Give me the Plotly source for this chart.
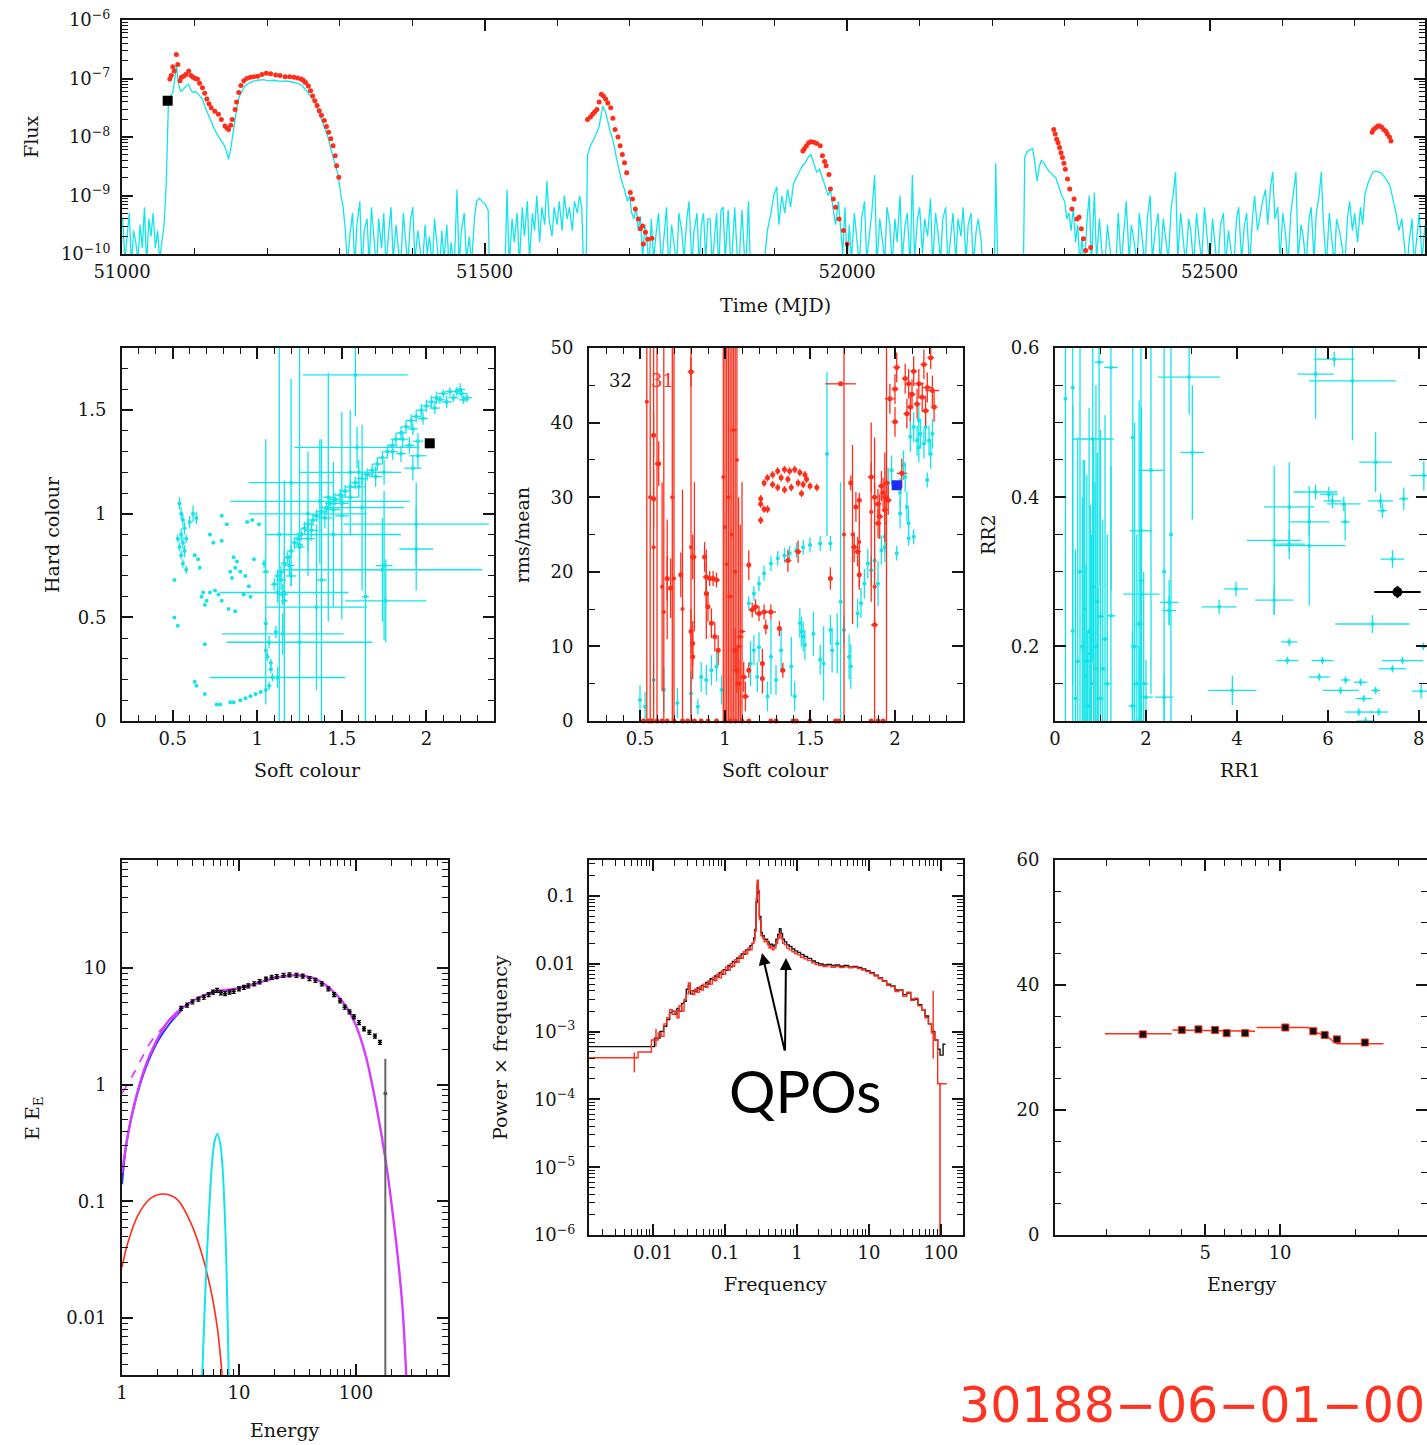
import plotly.graph_objects as go

# ======================= DATA =======================
# --- Light curve (MJD, log10 flux) ---
lc_cyan = [
    (51001,-9.4),(51004,-10.1),(51007,-9.7),(51010,-9.3),(51013,-10.2),(51016,-9.6),(51019,-9.8),(51022,-10.1),
    (51025,-9.5),(51028,-9.9),(51031,-9.2),(51034,-10.2),(51037,-9.4),(51040,-9.7),(51043,-9.3),(51046,-9.9),
    (51049,-9.6),(51052,-10.1),(51055,-9.8),(51058,-9.5),(51061,-8.8),(51064,-7.42),(51067,-7.3),(51070,-7.24),
    (51073,-7.0),(51075,-6.75),(51078,-7.1),(51081,-7.22),(51085,-7.18),(51089,-7.12),(51092,-7.1),(51095,-7.2),
    (51098,-7.24),(51101,-7.22),(51104,-7.25),(51108,-7.3),(51111,-7.35),(51115,-7.5),(51119,-7.62),(51123,-7.75),
    (51127,-7.85),(51131,-7.95),(51136,-8.04),(51140,-8.12),(51143,-8.2),(51147,-8.38),(51150,-8.2),(51153,-7.95),
    (51156,-7.65),(51159,-7.45),(51162,-7.3),(51166,-7.2),(51170,-7.12),(51175,-7.08),(51180,-7.05),(51187,-7.03),
    (51195,-7.02),(51202,-7.04),(51210,-7.03),(51218,-7.05),(51226,-7.04),(51234,-7.06),(51242,-7.08),(51248,-7.12),
    (51254,-7.2),(51260,-7.3),(51266,-7.42),(51272,-7.6),(51278,-7.8),(51284,-8.0),(51289,-8.25),(51294,-8.5),
    (51298,-8.65),(51302,-9.0),(51305,-9.2),(51308,-9.6),(51311,-10.2),
    (51314,-9.7),(51318,-9.3),(51321,-10.2),(51324,-9.5),(51328,-9.1),(51331,-10.3),(51334,-9.6),(51338,-9.4),
    (51341,-10.2),(51344,-9.2),(51348,-9.8),(51351,-10.3),(51354,-9.4),(51358,-9.9),(51361,-9.3),(51364,-10.2),
    (51368,-9.6),(51371,-9.2),(51374,-10.1),(51378,-9.5),(51381,-9.9),(51384,-10.3),(51388,-9.3),(51391,-9.7),
    (51394,-10.2),(51398,-9.4),(51401,-9.2),(51404,-10.1),(51408,-9.6),(51411,-9.9),(51414,-10.3),(51418,-9.5),
    (51421,-10.0),(51424,-9.7),(51428,-10.2),(51431,-9.4),(51434,-9.9),(51438,-10.3),(51441,-9.6),(51444,-10.1),
    (51448,-9.5),(51451,-10.2),(51454,-9.8),(51458,-10.3),(51462,-8.9),(51465,-10.2),(51468,-9.6),(51472,-9.3),
    (51475,-10.1),(51479,-9.7),(51482,-10.2),(51486,-9.4),(51489,-9.1),(51493,-9.05),(51497,-9.1),(51501,-9.15),
    (51505,-9.25),(51507,-10.4),(51528,-10.4),(51531,-8.9),(51534,-10.2),(51538,-9.4),(51541,-9.8),(51545,-9.3),
    (51548,-10.2),(51552,-9.2),(51555,-9.7),(51559,-9.1),(51562,-10.1),(51566,-9.3),(51569,-9.6),(51572,-9.0),
    (51576,-9.8),(51579,-9.2),(51583,-9.5),(51586,-8.75),(51589,-9.4),(51593,-9.7),(51596,-9.2),(51600,-9.5),
    (51603,-9.1),(51607,-9.6),(51610,-9.0),(51614,-9.4),(51617,-9.2),(51621,-9.6),(51624,-9.1),(51628,-9.3),
    (51631,-9.0),(51634,-9.2),(51637,-10.4),(51640,-10.3),
    (51642,-8.3),(51646,-8.15),(51650,-8.05),(51654,-7.95),(51658,-7.82),(51661,-7.6),(51663,-7.47),(51666,-7.55),
    (51669,-7.68),(51673,-7.9),(51677,-8.05),(51681,-8.3),(51685,-8.55),(51689,-8.75),(51693,-8.9),(51697,-9.1),
    (51700,-9.0),(51703,-9.3),(51706,-9.4),(51709,-9.2),(51712,-9.6),(51715,-9.35),(51718,-10.1),(51721,-9.5),
    (51724,-9.8),(51727,-10.2),
    (51730,-9.4),(51733,-10.1),(51737,-9.6),(51740,-9.3),(51744,-10.2),(51747,-9.7),(51751,-9.2),(51754,-10.3),
    (51758,-9.5),(51761,-9.8),(51765,-10.2),(51768,-9.3),(51772,-9.6),(51775,-10.1),(51779,-9.4),(51782,-9.1),
    (51786,-10.2),(51789,-9.6),(51793,-9.3),(51796,-10.2),(51799,-9.5),(51802,-9.3),(51805,-10.1),(51808,-9.4),
    (51811,-9.4),(51814,-10.2),(51817,-9.7),(51820,-9.3),(51823,-10.3),(51826,-9.25),(51829,-9.2),(51832,-10.1),
    (51836,-9.25),(51840,-10.3),(51845,-9.2),(51850,-10.4),(51855,-9.25),(51860,-10.4),(51864,-9.1),(51867,-10.4),
    (51884,-10.4),(51890,-9.6),(51895,-9.3),(51899,-9.0),(51903,-8.85),(51906,-9.5),(51910,-9.0),(51914,-9.3),
    (51918,-8.9),(51922,-9.2),(51926,-8.8),(51930,-8.7),(51934,-8.6),(51938,-8.5),(51942,-8.45),(51946,-8.35),
    (51950,-8.3),(51954,-8.45),(51958,-8.6),(51962,-8.55),(51966,-8.7),(51970,-8.85),(51974,-9.0),(51977,-8.9),
    (51981,-9.2),(51984,-9.5),(51988,-9.1),(51991,-9.6),(51994,-10.0),(51997,-9.2),(52000,-10.2),
    (52003,-9.5),(52006,-10.1),(52010,-9.3),(52013,-9.7),(52017,-10.2),(52020,-9.4),(52024,-9.1),(52027,-10.1),
    (52031,-9.6),(52034,-9.3),(52038,-8.65),(52041,-10.2),(52045,-9.4),(52048,-9.7),(52052,-10.1),(52055,-9.2),
    (52059,-9.5),(52062,-10.2),(52066,-9.4),(52069,-9.8),(52073,-9.0),(52076,-10.1),(52080,-9.5),(52083,-9.3),
    (52087,-10.2),(52090,-8.65),(52093,-10.1),(52097,-9.4),(52100,-9.2),(52104,-10.0),(52107,-9.4),(52111,-9.7),
    (52115,-9.05),(52118,-10.2),(52122,-9.3),(52125,-9.6),(52129,-10.1),(52132,-9.4),(52136,-9.2),(52139,-10.2),
    (52143,-9.6),(52146,-9.3),(52150,-10.1),(52153,-9.4),(52157,-9.7),(52160,-9.2),(52164,-10.1),(52167,-9.5),
    (52171,-9.3),(52174,-10.2),(52178,-9.6),(52181,-9.4),(52185,-9.8),(52188,-10.4),(52203,-10.4),(52205,-8.45),
    (52208,-10.4),(52243,-10.4),
    (52245,-8.35),(52248,-8.25),(52252,-8.22),(52256,-8.2),(52259,-8.45),(52262,-8.75),(52265,-8.5),(52268,-8.4),
    (52272,-8.45),(52276,-8.55),(52280,-8.6),(52284,-8.65),(52288,-8.7),(52292,-8.85),(52296,-9.0),(52300,-9.1),
    (52303,-9.4),(52306,-9.3),(52309,-9.6),(52312,-9.2),(52315,-9.8),(52318,-9.5),(52321,-10.2),(52324,-9.7),
    (52327,-10.3),(52331,-9.4),(52334,-9.0),(52337,-10.2),(52341,-8.95),(52344,-10.1),(52348,-9.4),(52351,-9.9),
    (52355,-10.3),(52359,-9.5),(52362,-9.9),(52366,-10.3),(52370,-10.4),(52374,-9.3),(52378,-10.2),(52382,-9.6),
    (52385,-9.1),(52389,-10.1),(52392,-9.5),(52396,-9.8),(52400,-10.2),(52403,-9.3),(52407,-9.7),(52411,-10.2),
    (52414,-9.4),(52418,-9.0),(52421,-10.1),(52425,-9.6),(52429,-9.3),(52432,-10.2),(52436,-9.4),(52440,-9.8),
    (52443,-10.1),(52447,-9.2),(52450,-8.95),(52453,-8.6),(52456,-10.1),(52460,-9.3),(52463,-9.7),(52467,-10.2),
    (52471,-9.4),(52474,-9.6),(52478,-10.2),(52482,-9.3),(52485,-9.7),(52489,-10.1),(52493,-9.2),(52496,-9.6),
    (52500,-10.2),(52504,-9.4),(52507,-9.9),(52511,-10.3),(52515,-9.5),(52519,-9.3),(52522,-10.2),(52526,-9.6),
    (52529,-9.9),(52533,-10.3),(52537,-9.4),(52540,-9.2),(52544,-10.1),(52548,-9.5),(52551,-9.3),(52555,-10.2),
    (52559,-9.4),(52562,-9.0),(52566,-9.6),(52570,-9.3),(52573,-9.1),(52577,-8.9),(52580,-9.5),(52584,-8.85),
    (52587,-8.6),(52590,-9.4),(52594,-9.2),(52597,-10.1),(52601,-9.3),(52605,-9.7),(52608,-10.2),(52612,-9.3),
    (52615,-9.0),(52619,-8.6),(52622,-10.1),(52626,-9.5),(52629,-9.7),(52633,-10.2),(52637,-9.4),(52640,-9.2),
    (52644,-10.1),(52647,-9.3),(52651,-9.0),(52654,-8.6),(52657,-9.5),(52661,-10.2),(52665,-9.3),(52668,-9.7),
    (52672,-10.2),(52675,-9.4),(52679,-9.6),(52683,-9.9),(52686,-10.3),(52690,-9.4),(52693,-9.1),(52697,-9.6),
    (52700,-9.3),(52704,-9.8),(52708,-9.2),(52711,-9.5),(52714,-9.0),(52718,-8.8),(52721,-8.7),(52725,-8.6),
    (52729,-8.58),(52733,-8.6),(52737,-8.62),(52741,-8.68),(52745,-8.75),(52749,-8.85),(52753,-9.05),(52757,-9.3),
    (52761,-9.6),(52765,-9.4),(52769,-9.9),(52772,-10.3),(52775,-9.8),(52779,-9.4),(52782,-10.2),(52786,-9.6),
    (52789,-9.3),(52793,-10.1),(52797,-9.5),
]
lc_red = [
    (51066,-7.01),(51068,-6.95),(51070,-6.8),(51072,-6.87),(51075,-6.59),(51077,-6.76),(51080,-7.04),(51082,-6.98),
    (51085,-6.96),(51088,-6.93),(51092,-6.87),(51095,-6.95),(51098,-6.98),(51101,-7.0),(51104,-7.01),(51107,-7.08),
    (51111,-7.16),(51114,-7.25),(51117,-7.35),(51120,-7.43),(51123,-7.50),(51128,-7.56),(51133,-7.61),(51137,-7.7),
    (51142,-7.81),(51145,-7.85),(51147,-7.87),(51150,-7.8),(51152,-7.70),(51156,-7.53),(51158,-7.4),(51161,-7.24),
    (51164,-7.12),(51168,-7.04),(51172,-7.0),(51177,-6.98),(51182,-6.97),(51187,-6.96),(51193,-6.93),(51199,-6.91),
    (51205,-6.92),(51212,-6.94),(51218,-6.95),(51225,-6.97),(51231,-6.97),(51237,-6.98),(51242,-6.99),(51247,-7.01),
    (51250,-7.03),(51253,-7.07),(51257,-7.13),(51260,-7.21),(51263,-7.3),(51266,-7.38),(51269,-7.46),(51272,-7.55),
    (51275,-7.63),(51279,-7.72),(51282,-7.82),(51285,-7.92),(51288,-8.03),(51291,-8.15),(51294,-8.32),(51296,-8.49),
    (51299,-8.69),
    (51642,-7.70),(51646,-7.66),(51649,-7.61),(51652,-7.57),(51655,-7.53),(51658,-7.4),(51661,-7.27),(51664,-7.3),
    (51667,-7.35),(51670,-7.42),(51674,-7.50),(51677,-7.68),(51680,-7.87),(51684,-8.0),(51687,-8.15),(51690,-8.3),
    (51693,-8.44),(51696,-8.61),(51701,-8.95),(51704,-9.06),(51708,-9.23),(51712,-9.40),(51715,-9.57),(51718,-9.52),
    (51719,-9.83),(51722,-9.63),(51725,-9.75),(51731,-9.73),
    (51939,-8.24),(51941,-8.2),(51944,-8.15),(51947,-8.1),(51950,-8.08),(51954,-8.09),(51958,-8.11),(51963,-8.15),
    (51966,-8.32),(51969,-8.42),(51971,-8.49),(51975,-8.64),(51977,-8.89),(51981,-9.06),(51984,-9.20),(51989,-9.40),
    (51995,-9.60),(52000,-9.83),
    (52285,-7.87),(52287,-7.95),(52289,-8.04),(52291,-8.1),(52293,-8.18),(52295,-8.27),(52297,-8.35),(52299,-8.45),
    (52301,-8.55),(52304,-8.72),(52307,-8.89),(52310,-9.23),(52313,-9.06),(52317,-9.40),(52320,-9.37),(52323,-9.57),
    (52326,-9.74),(52329,-9.94),(52336,-9.89),
    (52724,-7.92),(52726,-7.87),(52729,-7.84),(52732,-7.81),(52734,-7.81),(52737,-7.83),(52740,-7.87),(52743,-7.9),
    (52745,-7.95),(52748,-8.0),(52750,-8.07),
]
lc_black = [(51063, -7.38)]

# --- Hardness: (soft colour, hard colour, err_soft, err_hard) ---
hc_points = [
    (0.54,1.05,0.01,0.03),(0.55,1.0,0.01,0.03),(0.56,0.97,0.01,0.03),(0.57,0.93,0.01,0.03),(0.55,0.9,0.01,0.03),
    (0.56,0.86,0.01,0.03),(0.57,0.82,0.01,0.03),(0.55,0.8,0.01,0.02),(0.56,0.76,0.01,0.02),(0.58,0.73,0.01,0.02),
    (0.6,0.96,0.01,0.03),(0.62,1.0,0.01,0.04),(0.64,0.98,0.01,0.03),(0.53,0.88,0.01,0.02),(0.58,0.88,0.01,0.02),
    (0.54,0.84,0.0,0.02),(0.51,0.68,0,0),(0.51,0.50,0,0),(0.53,0.46,0,0),(0.69,0.37,0,0),(0.63,0.19,0,0),
    (0.64,0.17,0,0),(0.69,0.13,0,0),(0.76,0.08,0,0),(0.78,0.08,0,0),(0.84,0.09,0,0),(0.86,0.09,0,0),(0.9,0.1,0,0),
    (0.93,0.11,0,0),(0.96,0.12,0,0),(0.99,0.13,0,0),(1.02,0.14,0.01,0.01),(1.05,0.15,0.01,0.01),(1.07,0.17,0.01,0.02),
    (1.09,0.21,0.01,0.02),(1.08,0.25,0.01,0.02),(1.08,0.28,0.01,0.02),(1.06,0.31,0.01,0.02),(1.05,0.34,0.01,0.02),
    (1.07,0.38,0.01,0.03),(1.11,0.43,0.01,0.03),(1.05,0.47,0.01,0.03),
    (0.67,0.6,0,0),(0.69,0.56,0,0),(0.72,0.9,0,0),(0.74,0.86,0,0),(0.79,0.99,0,0),(0.82,0.95,0,0),(0.79,0.87,0,0),
    (0.86,0.79,0,0),(0.87,0.74,0,0),(0.9,0.72,0,0),(0.75,0.63,0,0),(0.79,0.58,0,0),(0.83,0.54,0,0),(0.87,0.53,0,0),
    (0.92,0.61,0,0),(0.95,0.65,0,0),(0.96,0.6,0,0),(0.94,0.96,0.01,0),(0.97,0.97,0.01,0),(1.01,0.95,0.01,0),
    (1.04,0.76,0.01,0.02),(0.98,0.78,0,0),(0.68,0.62,0,0),(0.7,0.58,0,0),(0.63,0.8,0,0),(0.65,0.78,0,0),(0.66,0.74,0,0),
    (0.72,0.62,0,0),(0.77,0.61,0,0),(0.88,0.77,0,0),(0.84,0.72,0,0),(0.93,0.7,0,0),(0.85,0.69,0,0),
    (1.10,0.66,0.02,0.03),(1.12,0.70,0.02,0.03),(1.14,0.72,0.02,0.03),(1.16,0.76,0.02,0.03),(1.18,0.79,0.02,0.03),
    (1.20,0.82,0.02,0.03),(1.22,0.86,0.02,0.03),(1.24,0.88,0.02,0.03),(1.26,0.90,0.02,0.03),(1.28,0.93,0.02,0.03),
    (1.30,0.95,0.03,0.03),(1.33,0.97,0.03,0.03),(1.35,0.99,0.03,0.03),(1.38,1.01,0.03,0.03),(1.41,1.03,0.03,0.03),
    (1.43,1.05,0.03,0.03),(1.46,1.07,0.03,0.03),(1.49,1.09,0.03,0.03),(1.52,1.11,0.03,0.03),(1.55,1.13,0.03,0.03),
    (1.58,1.15,0.03,0.03),(1.62,1.17,0.03,0.03),(1.65,1.19,0.03,0.03),(1.68,1.21,0.03,0.03),(1.71,1.24,0.03,0.03),
    (1.74,1.27,0.03,0.03),(1.77,1.30,0.03,0.03),(1.80,1.33,0.03,0.03),(1.82,1.36,0.03,0.03),(1.85,1.39,0.03,0.03),
    (1.88,1.42,0.03,0.03),(1.91,1.45,0.03,0.03),(1.94,1.47,0.03,0.03),(1.97,1.50,0.03,0.03),(2.00,1.52,0.03,0.03),
    (2.03,1.54,0.03,0.03),(2.06,1.56,0.03,0.03),(2.10,1.58,0.03,0.02),(2.14,1.59,0.03,0.02),(2.18,1.59,0.03,0.02),
    (2.21,1.58,0.03,0.02),(2.24,1.56,0.03,0.02),(2.22,1.55,0.03,0.02),(2.16,1.56,0.03,0.02),(2.08,1.55,0.03,0.02),
    (2.05,1.51,0.03,0.03),(1.98,1.46,0.03,0.03),(1.92,1.41,0.03,0.03),(1.86,1.36,0.03,0.04),(1.80,1.30,0.03,0.04),
    (1.9,1.33,0.03,0.04),(1.95,1.35,0.03,0.04),(1.85,1.29,0.03,0.04),(2.12,1.54,0.03,0.03),(2.2,1.6,0.03,0.03),
    (1.70,1.18,0.04,0.05),(1.60,1.13,0.04,0.05),(1.50,1.05,0.04,0.05),(1.40,0.98,0.04,0.05),(1.32,0.92,0.04,0.05),
    (1.25,0.84,0.03,0.05),(1.19,0.75,0.03,0.05),(1.14,0.68,0.03,0.05),(1.12,0.62,0.03,0.05),(1.15,0.61,0.03,0.05),
    (1.2,0.7,0.03,0.05),(1.3,0.88,0.04,0.06),(1.45,1.02,0.04,0.06),(1.55,1.08,0.05,0.06),(1.6,1.2,0.05,0.06),
    (1.75,1.2,0.05,0.06),(1.95,1.28,0.05,0.06),(1.92,1.22,0.05,0.06),
]
hc_big = [
    (1.58,1.67,0.31,0.2),(1.13,0.9,0.02,0.92),(1.25,0.85,0.02,1.0),(1.64,0.6,0.02,0.6),(1.59,1.32,0.37,0.1),
    (1.37,1.06,0.53,0.3),(1.94,0.95,0.43,0.2),(1.74,0.73,0.59,0.25),(1.16,0.62,0.38,0.2),(1.76,0.58,0.24,0.2),
    (1.15,0.42,0.36,0.1),(1.25,0.38,0.43,0.08),(1.12,0.21,0.4,0.05),(1.05,0.72,0.02,0.64),(1.16,0.58,0.02,0.58),
    (1.38,0.68,0.03,0.68),(1.42,1.08,0.03,0.6),(1.5,0.99,0.04,0.5),(1.75,0.75,0.05,0.36),(1.94,0.83,0.1,0.2),
    (1.3,1.0,0.35,0.3),(1.45,0.9,0.4,0.35),(1.55,1.2,0.3,0.3),(1.35,0.55,0.3,0.4),(1.62,1.03,0.25,0.4),
    (1.2,1.15,0.25,0.5),
]
hc_black = [(2.02, 1.34)]

# --- rms vs soft colour: (soft colour, rms, err_soft, err_rms) ---
rms_red_big = [
    (0.54,42.8,0.01,45),(0.56,30,0.01,40),(0.58,23.3,0.01,40),(0.6,34.5,0.01,40),(0.64,14.6,0.01,38),
    (0.69,30,0.01,35),(0.7,19.1,0.01,40),(0.8,23.3,0.01,30),(0.99,32.7,0.01,40),(1.0,26,0.01,40),
    (1.01,21,0.01,40),(1.02,30,0.01,40),(1.03,16.7,0.02,35),(1.04,25,0.01,40),(1.05,39,0.02,40),
    (1.06,20,0.01,40),(1.07,35,0.01,40),(1.08,10,0.02,20),(1.09,11.3,0.02,15),(1.1,12,0.02,20),
    (1.7,25,0.01,40),(1.95,30,0.01,40),(1.88,18,0.01,20),(0.75,15,0.01,16),(0.82,22,0.01,10),
    (0.63,18,0.01,14),(0.66,19,0.01,8),(0.89,17,0.01,6),(1.75,25,0.01,12),(1.79,24,0.01,6),
    (1.86,28,0.01,12),(1.94,30,0.02,6),
]
rms_red = [
    (0.58,38.3,0.01,3),(0.61,34.5,0.01,3),(0.58,29.8,0.01,4),(0.66,19.1,0.01,3),(0.68,17.8,0.01,4),
    (0.74,19.6,0.01,3),(0.80,46.8,0.02,2),(0.81,22.0,0.01,3),(0.8,12.0,0.01,3),(0.81,10.4,0.01,3),
    (0.81,8.6,0.01,3),(0.88,22.0,0.01,2),(0.89,19.3,0.02,2),(0.89,17.1,0.01,2),(0.9,15.3,0.01,2),
    (0.91,19.1,0.02,1),(0.93,19.1,0.02,1),(0.95,18.9,0.02,1),(0.92,13.1,0.01,2),(0.94,11.3,0.01,2),
    (0.96,9.5,0.01,2),(1.06,9.5,0.02,3),(1.07,6.8,0.02,3),(1.08,5.0,0.02,3),(1.11,5.9,0.02,2),
    (1.12,3.3,0.02,2),(1.14,20.9,0.01,2),(1.14,6.8,0.01,1),(1.16,14.9,0.02,1),(1.18,15.3,0.02,1),
    (1.2,14.4,0.02,1),(1.23,14.6,0.03,1),(1.27,14.6,0.03,1),(1.22,7.7,0.01,2),(1.22,5.7,0.01,2),
    (1.24,12.6,0.01,1),(1.32,12.4,0.01,1),(1.34,6.8,0.01,1),(1.37,21.5,0.02,1.5),(1.43,22.7,0.02,1.5),
    (1.62,19.1,0.01,1.5),(1.68,45.2,0.09,0.3),(1.74,31.9,0.01,1),(1.77,28.7,0.01,2),(1.79,29.6,0.01,1),
    (1.76,23.3,0.02,2),(1.78,22.7,0.02,2),(1.79,19.6,0.01,2),(1.88,12.9,0.02,1),(1.86,32.7,0.02,2),
    (1.88,30.0,0.02,2),(1.9,29.1,0.02,2),(1.91,27.4,0.02,3),(1.92,31.5,0.02,2),(1.93,30.6,0.02,2),
    (1.95,31.9,0.02,2),(1.96,29.6,0.02,2),(1.94,28.3,0.02,2),(1.9,26.5,0.02,2),(1.97,43.2,0.03,2),
    (2.0,44.5,0.02,2),(2.01,47.4,0.02,2),(2.0,40.1,0.02,2),(2.04,33.2,0.03,2),(2.06,45.9,0.02,2),
    (2.08,45.2,0.02,2),(2.1,43.8,0.02,2),(2.11,46.9,0.02,2),(2.13,42.5,0.02,2),(2.14,45.2,0.03,2),
    (2.16,43.4,0.02,2),(2.17,47.8,0.02,2),(2.18,41.6,0.02,2),(2.19,44.7,0.03,2),(2.21,48.7,0.02,1.5),
    (2.22,44.3,0.04,2),(2.23,42.1,0.02,2),(2.09,42.1,0.02,2),(2.07,41.2,0.02,2),
    (1.23,31.9,0.01,0.5),(1.25,32.6,0.01,0.5),(1.28,33.0,0.01,0.5),(1.31,33.5,0.01,0.5),(1.35,33.7,0.01,0.5),
    (1.38,33.5,0.01,0.5),(1.41,33.7,0.01,0.5),(1.44,33.3,0.01,0.5),(1.47,33.0,0.01,0.5),(1.46,31.7,0.01,0.5),
    (1.43,31.9,0.01,0.5),(1.39,31.3,0.01,0.5),(1.35,31.0,0.01,0.5),(1.31,31.3,0.01,0.5),(1.28,31.7,0.01,0.5),
    (1.5,31.5,0.01,0.5),(1.54,31.3,0.01,0.5),(1.37,32.4,0.01,0.5),(1.33,32.6,0.01,0.5),(1.48,32.4,0.01,0.5),
    (1.45,30.5,0.01,0.5),(1.21,29.8,0.01,0.5),(1.21,29.1,0.01,0.5),(1.23,28.4,0.01,0.5),(1.25,28.4,0.01,0.5),
    (1.21,26.9,0.01,0.5),
]
rms_red_zero = [0.52,0.55,0.57,0.6,0.63,0.66,0.7,0.75,0.78,0.82,0.86,0.9,0.95,1.0,1.03,1.06,1.1,1.14,
                1.27,1.3,1.4,1.42,1.5,1.65,1.67,1.86,1.9,1.93]
rms_cyan = [
    (1.14,15.8,0.01,1),(1.17,17.1,0.01,1),(1.2,18.4,0.01,1),(1.23,19.8,0.01,1),(1.27,21.1,0.01,1),
    (1.31,21.8,0.01,1),(1.35,22.2,0.01,1),(1.38,22.5,0.01,1),(1.42,22.9,0.01,1),(1.46,23.3,0.01,1),
    (1.5,23.6,0.01,1),(1.56,23.8,0.01,1),(1.62,23.8,0.01,1),
    (0.5,2.8,0.01,2),(0.53,1.9,0.01,2),(0.58,5.5,0.01,3),(0.64,4.2,0.01,3),(0.72,2.4,0.01,2),(0.8,3.7,0.01,3),
    (0.86,5.9,0.01,2),(0.89,5.5,0.01,2),(0.92,6.8,0.01,2),(0.95,7.3,0.01,2),(0.98,4.2,0.01,2),(0.84,1.9,0.01,1),
    (1.15,7.7,0.01,3),(1.17,9.5,0.01,2),(1.2,9.9,0.01,2),(1.19,5.9,0.01,2),(1.25,3.3,0.01,2),(1.27,8.6,0.01,5),
    (1.3,5.5,0.01,2),(1.33,9.5,0.01,3),(1.39,7.3,0.01,4),(1.41,3.3,0.01,2),(1.45,12.0,0.01,2),(1.46,11.3,0.01,2),
    (1.44,13.1,0.01,2),(1.47,10.2,0.01,2),(1.52,11.7,0.01,3),(1.56,8.2,0.01,2),(1.58,7.7,0.01,5),(1.62,12.2,0.01,2),
    (1.63,9.5,0.01,3),(1.66,10.4,0.01,4),(1.7,12.2,0.01,2),(1.73,8.6,0.01,3),(1.74,7.3,0.01,3),(1.78,14.4,0.01,2),
    (1.8,15.8,0.01,2),(1.82,18.4,0.01,2),(1.84,21.1,0.01,2),(1.86,20.2,0.01,2),(1.88,21.5,0.01,2),(1.9,18.4,0.01,3),
    (1.92,22.9,0.01,2),(1.94,23.3,0.01,2),(1.94,24.7,0.01,2),(1.6,35.8,0.01,11),(1.68,16,0.01,16),
    (1.96,31.9,0.01,2),(1.98,33.6,0.01,2),(2.03,30.6,0.01,2),(2.03,27.8,0.01,2),(2.07,28.7,0.01,2),
    (2.08,26.5,0.01,2),(2.01,22.5,0.01,1),(2.08,24.5,0.01,1),(2.11,24.7,0.01,1),(2.06,32.7,0.01,2),
    (2.09,38.1,0.01,2),(2.11,39.4,0.01,2),(2.14,40.3,0.01,2),(2.13,37.6,0.01,2),(2.15,38.5,0.01,2),
    (2.17,37.2,0.01,2),(2.18,39.4,0.01,2),(2.2,37.6,0.01,2),(2.21,35.8,0.01,2),(2.22,38.5,0.01,2),
    (2.19,32.3,0.01,1),(2.14,36.7,0.01,2),(2.05,34.3,0.01,2),
]
rms_blue = [(2.01, 31.6)]

# --- RR2 vs RR1: (RR1, RR2, err_RR1, err_RR2) ---
rr_cyan = [
    (0.23,0.532,0.02,0.5),(0.39,0.547,0.02,0.4),(0.39,0.221,0.02,0.3),(0.55,0.3,0.03,0.4),(0.6,0.2,0.05,0.2),
    (0.65,0.25,0.05,0.2),(0.7,0.18,0.06,0.25),(0.75,0.22,0.05,0.3),(0.8,0.15,0.05,0.2),(0.83,0.478,0.46,0.3),
    (0.85,0.28,0.05,0.2),(0.9,0.2,0.06,0.35),(0.95,0.13,0.06,0.15),(0.97,0.581,0.1,0.3),(1.0,0.24,0.08,0.25),
    (1.05,0.17,0.06,0.2),(1.1,0.21,0.07,0.3),(1.15,0.15,0.08,0.2),(1.23,0.574,0.15,0.3),(1.23,0.241,0.1,0.2),
    (0.72,0.12,0.05,0.1),(0.68,0.16,0.04,0.15),(0.62,0.2,0.04,0.25),(0.78,0.19,0.05,0.2),(0.88,0.17,0.05,0.25),
    (0.93,0.26,0.06,0.2),(1.0,0.13,0.07,0.15),(0.45,0.13,0.03,0.2),(0.5,0.18,0.04,0.3),
    (1.71,0.48,0.05,0.4),(1.75,0.2,0.08,0.3),(1.8,0.15,0.1,0.2),(1.85,0.23,0.1,0.3),(1.89,0.355,0.25,0.3),
    (1.89,0.288,0.05,0.2),(1.9,0.27,0.4,0.25),(2.11,0.436,0.28,0.3),(2.0,0.132,0.15,0.05),(2.4,0.132,0.2,0.03),
    (1.95,0.15,0.1,0.15),(1.7,0.12,0.08,0.1),(1.85,0.1,0.1,0.1),(2.4,0.3,0.02,0.3),(2.55,0.35,0.02,0.3),
    (2.51,0.259,0.2,0.03),(2.51,0.248,0.15,0.02),
    (2.95,0.561,0.68,0.05),(3.02,0.46,0.26,0.09),(3.61,0.253,0.38,0.01),(3.98,0.277,0.26,0.01),
    (3.9,0.141,0.53,0.02),(4.82,0.262,0.42,0.02),(4.82,0.342,0.6,0.1),(5.15,0.387,0.55,0.06),(5.15,0.337,0.35,0.02),
    (5.59,0.335,0.8,0.08),(5.59,0.367,0.45,0.02),(5.73,0.407,0.48,0.01),(6.02,0.404,0.2,0.01),(6.1,0.395,0.2,0.01),
    (6.35,0.391,0.37,0.01),(6.38,0.367,0.1,0.025),(5.73,0.565,0.4,0.06),(6.14,0.585,0.44,0.01),(6.54,0.556,0.96,0.08),
    (7.05,0.447,0.36,0.04),(7.16,0.395,0.27,0.01),(7.2,0.382,0.1,0.01),(7.67,0.398,0.1,0.015),(8.11,0.429,0.3,0.02),
    (7.42,0.317,0.26,0.012),(6.98,0.23,0.82,0.012),(5.15,0.206,0.18,0.005),(5.11,0.181,0.24,0.005),
    (5.88,0.181,0.24,0.005),(5.81,0.159,0.23,0.005),(6.39,0.155,0.1,0.005),(6.72,0.152,0.15,0.005),
    (6.28,0.141,0.4,0.005),(7.05,0.141,0.1,0.005),(6.79,0.13,0.18,0.005),(6.68,0.112,0.3,0.005),
    (7.12,0.112,0.2,0.005),(6.83,0.1,0.2,0.005),(7.42,0.17,0.3,0.005),(7.64,0.181,0.45,0.005),
    (8.1,0.2,0.1,0.005),(8.05,0.14,0.2,0.01),
]
rr_black = [(7.53, 0.273, 0.51, 0.008)]

# --- Energy spectrum ---
spec_model_E = [1.0,1.125,1.28,1.56,1.89,2.45,3.4,4.7,6.5,9.0,12.5,17.3,23.9,33.1,45.8,63.4,82.2,100,121.6,147.6,179.5,218.3,248.3,268.5]
spec_model_F = [0.176,0.377,0.693,1.377,2.178,3.436,4.667,5.649,6.324,6.577,7.096,7.834,8.453,8.590,7.962,6.324,4.667,3.184,1.730,0.693,0.221,0.0481,0.01315,0.00324]
spec_dash_E = [1.0,1.28,1.78,2.4,3.2]
spec_dash_F = [0.84,1.28,2.35,3.3,4.3]
spec_blue_E = [1.0,1.1,1.3,1.6,2.0,2.6,3.2]
spec_blue_F = [0.14,0.33,0.72,1.4,2.3,3.4,4.3]
spec_bb_E = [1.0,1.125,1.368,1.774,2.301,2.985,3.873,4.699,5.715,6.516,7.178]
spec_bb_F = [0.0272,0.0446,0.076,0.107,0.1156,0.103,0.0653,0.0383,0.01786,0.00834,0.00324]
spec_line_E = [4.85,5.36,5.9,6.2,6.52,6.95,7.52,8.17]
spec_line_F = [0.0032,0.0413,0.221,0.33,0.377,0.30,0.0885,0.0032]
spec_data_E = [3.2,3.6,4.0,4.5,5.0,5.5,6.0,6.5,7.0,7.6,8.3,9.0,10,11,12,13.5,15,17,19,21,24,27,31,35,40,45,51,58,65,73,80,88,96,106,117,130,145,160]
spec_data_F = [4.5,4.8,5.1,5.4,5.6,5.9,6.2,6.4,6.1,6.0,6.2,6.3,6.6,6.8,7.0,7.3,7.6,8.0,8.3,8.4,8.6,8.7,8.6,8.5,8.1,7.8,7.3,6.6,5.9,5.2,4.6,4.2,3.8,3.4,3.0,2.8,2.6,2.3]
spec_grey = [(178, 0.84, 0.82)]

# --- Power spectra (frequency, power*frequency) ---
psd_red_f = [0.0013,0.0062,0.0095,0.0118,0.013,0.0142,0.0155,0.017,0.0185,0.02,0.0215,0.023,0.025,0.027,0.029,0.031,
             0.033,0.0355,0.038,0.041,0.044,0.047,0.05,0.054,0.058,0.062,0.067,0.072,0.077,0.083,0.089,0.095,0.102,
             0.11,0.118,0.127,0.136,0.146,0.157,0.168,0.18,0.193,0.207,0.222,0.238,0.25,0.26,0.27,0.28,0.29,0.3,
             0.315,0.33,0.35,0.37,0.39,0.41,0.43,0.455,0.48,0.51,0.54,0.57,0.6,0.63,0.67,0.72,0.78,0.85,0.93,1.02,
             1.12,1.25,1.4,1.6,1.8,2.0,2.3,2.6,3.0,3.4,3.9,4.5,5.2,6.0,6.9,7.9,9.0,10.3,11.8,13.5,15.4,17.6,20,23,
             26,29.5,33.5,38,43,48,54,60,67,74,82,90,120]
psd_red_p = [4.1e-4,5.0e-4,7.5e-4,9.5e-4,8.5e-4,1.3e-3,1.6e-3,2.1e-3,1.8e-3,2.0e-3,1.6e-3,2.4e-3,2.0e-3,3.0e-3,3.6e-3,
             5.2e-3,4.0e-3,3.5e-3,4.2e-3,3.8e-3,4.6e-3,4.1e-3,5.0e-3,4.5e-3,5.6e-3,5.0e-3,6.3e-3,5.6e-3,7.0e-3,6.2e-3,
             7.8e-3,7.0e-3,9.0e-3,8.0e-3,1.0e-2,9.2e-3,1.15e-2,1.05e-2,1.3e-2,1.2e-2,1.5e-2,1.4e-2,1.7e-2,1.6e-2,2.0e-2,
             2.2e-2,3.0e-2,0.09,0.17,0.12,0.045,0.026,0.024,0.021,0.022,0.019,0.017,0.018,0.016,0.017,0.02,0.024,0.028,
             0.024,0.02,0.019,0.017,0.016,0.015,0.0142,0.0135,0.0125,0.0118,0.0112,0.0103,0.0098,0.0094,0.0091,0.0093,
             0.0089,0.0092,0.0088,0.009,0.0087,0.0089,0.0085,0.0081,0.0077,0.0072,0.0066,0.006,0.0055,0.0048,0.0046,
             0.0039,0.0041,0.0033,0.0038,0.0029,0.0031,0.0024,0.0021,0.0016,0.0013,0.00095,0.00075,0.00017,0.00017]
psd_blk_f = [0.0013,0.0081,0.0105,0.0125,0.014,0.0155,0.017,0.0185,0.02,0.0215,0.023,0.025,0.027,0.029,0.031,0.033,
             0.0355,0.038,0.041,0.044,0.047,0.05,0.054,0.058,0.062,0.067,0.072,0.077,0.083,0.089,0.095,0.102,0.11,
             0.118,0.127,0.136,0.146,0.157,0.168,0.18,0.193,0.207,0.222,0.238,0.25,0.26,0.27,0.28,0.29,0.3,0.315,0.33,
             0.35,0.37,0.39,0.41,0.43,0.455,0.48,0.51,0.54,0.57,0.6,0.63,0.67,0.72,0.78,0.85,0.93,1.02,1.12,1.25,1.4,
             1.6,1.8,2.0,2.3,2.6,3.0,3.4,3.9,4.5,5.2,6.0,6.9,7.9,9.0,10.3,11.8,13.5,15.4,17.6,20,23,26,29.5,33.5,38,
             43,48,54,60,67,74,82,90,97,107,115]
psd_blk_p = [6.0e-4,6.0e-4,8.0e-4,1.0e-3,1.2e-3,1.5e-3,1.9e-3,2.0e-3,1.8e-3,2.2e-3,2.0e-3,2.6e-3,2.8e-3,4.2e-3,4.8e-3,
             3.6e-3,4.0e-3,3.9e-3,4.4e-3,4.2e-3,4.8e-3,4.6e-3,5.3e-3,5.0e-3,6.0e-3,5.8e-3,6.6e-3,6.4e-3,7.4e-3,7.0e-3,
             8.2e-3,8.0e-3,9.4e-3,9.0e-3,1.08e-2,1.05e-2,1.22e-2,1.2e-2,1.4e-2,1.38e-2,1.6e-2,1.6e-2,1.85e-2,2.0e-2,
             2.4e-2,3.2e-2,0.08,0.15,0.11,0.05,0.029,0.026,0.023,0.023,0.021,0.019,0.0195,0.018,0.019,0.023,0.027,0.033,
             0.028,0.023,0.021,0.019,0.018,0.0165,0.0155,0.0147,0.0137,0.0128,0.012,0.011,0.0104,0.0099,0.0096,0.0098,
             0.0094,0.0096,0.0092,0.0094,0.009,0.0091,0.0088,0.0084,0.0079,0.0074,0.0068,0.0062,0.0056,0.005,0.0047,
             0.0041,0.0041,0.0035,0.0037,0.003,0.003,0.0025,0.0021,0.0017,0.0013,0.001,0.00075,0.00055,0.00045,
             0.00065,0.00065]
psd_red_err = [(0.0055, 4.1e-4, 0.8e-4, 1.6e-4), (0.011, 8.5e-4, 2.5e-4, 2.5e-4), (78, 1.6e-3, 2.4e-3, 1.2e-3)]
psd_red_drop = [(97, 1.7e-4)]

# --- rms vs energy ---
rmsE_E = [2.81,4.03,4.7,5.48,6.1,7.24,10.5,13.6,15.1,16.9,21.9]
rmsE_V = [32.1,32.8,32.9,32.8,32.3,32.3,33.2,32.6,32.0,31.3,30.8]
rmsE_model_E = [1.98,3.67,None,3.7,7.94,None,8.06,13.0,13.6,15.1,16.9,26.0]
rmsE_model_V = [32.2,32.2,None,32.8,32.6,None,33.2,33.2,32.5,32.0,30.6,30.6]

obs_id = "30188\u221206\u221201\u221200"

# ======================= STYLE / LAYOUT =======================
W, H = 1427, 1445
CYAN = '#14e4ea'
RED = '#ff2d1a'
INK = '#151515'
TFONT = dict(family='DejaVu Serif', size=18, color=INK)


def col(rows, i):
    return [r[i] for r in rows]


def dx(a, b):
    return [a / W, b / W]


def dy(top, bottom):
    return [1 - bottom / H, 1 - top / H]


def axis(**kw):
    base = dict(showline=True, linecolor=INK, linewidth=2, mirror='allticks', ticks='inside', ticklen=11,
                tickwidth=1.5, tickcolor=INK, showgrid=False, zeroline=False, tickfont=TFONT, automargin=False,
                minor=dict(ticks='inside', ticklen=6, tickwidth=1.2, tickcolor=INK, showgrid=False))
    minor = kw.pop('minor', None)
    base.update(kw)
    if minor:
        base['minor'].update(minor)
    return base


def logminor(e0, e1):
    return [m * 10.0 ** e for e in range(e0, e1) for m in range(2, 10)]


def sup(e):
    return '10<sup>\u2212%d</sup>' % e


fig = go.Figure()

# ---- top light curve ----
fig.add_trace(go.Scatter(x=col(lc_cyan, 0), y=[10 ** v for v in col(lc_cyan, 1)], mode='lines',
                         line=dict(color=CYAN, width=1.3), xaxis='x', yaxis='y'))
fig.add_trace(go.Scatter(x=col(lc_red, 0), y=[10 ** v for v in col(lc_red, 1)], mode='markers',
                         marker=dict(color=RED, size=5), xaxis='x', yaxis='y'))
fig.add_trace(go.Scatter(x=col(lc_black, 0), y=[10 ** v for v in col(lc_black, 1)], mode='markers',
                         marker=dict(color='black', size=10, symbol='square'), xaxis='x', yaxis='y'))


def errscatter(rows, color, xa, ya, size=4, thick=1.3):
    return go.Scatter(x=col(rows, 0), y=col(rows, 1), mode='markers',
                      marker=dict(color=color, size=size),
                      error_x=dict(type='data', array=col(rows, 2), width=0, thickness=thick, color=color),
                      error_y=dict(type='data', array=col(rows, 3), width=0, thickness=thick, color=color),
                      xaxis=xa, yaxis=ya)


# ---- panel A ----
fig.add_trace(errscatter(hc_big, CYAN, 'x2', 'y2'))
fig.add_trace(errscatter(hc_points, CYAN, 'x2', 'y2'))
fig.add_trace(go.Scatter(x=col(hc_black, 0), y=col(hc_black, 1), mode='markers',
                         marker=dict(color='black', size=10, symbol='square'), xaxis='x2', yaxis='y2'))

# ---- panel B ----
fig.add_trace(errscatter(rms_cyan, CYAN, 'x3', 'y3'))
fig.add_trace(errscatter(rms_red_big, RED, 'x3', 'y3'))
fig.add_trace(errscatter(rms_red, RED, 'x3', 'y3', size=5))
fig.add_trace(go.Scatter(x=rms_red_zero, y=[0] * len(rms_red_zero), mode='markers', cliponaxis=False,
                         marker=dict(color=RED, size=5), xaxis='x3', yaxis='y3'))
fig.add_trace(go.Scatter(x=col(rms_blue, 0), y=col(rms_blue, 1), mode='markers',
                         marker=dict(color='#1a2dff', size=10, symbol='square'), xaxis='x3', yaxis='y3'))

# ---- panel C ----
fig.add_trace(errscatter(rr_cyan, CYAN, 'x4', 'y4'))
fig.add_trace(errscatter(rr_black, 'black', 'x4', 'y4', size=10, thick=2))

# ---- panel D ----
fig.add_trace(go.Scatter(x=spec_blue_E, y=spec_blue_F, mode='lines', line=dict(color='#2233ff', width=2, shape='spline'),
                         xaxis='x5', yaxis='y5'))
fig.add_trace(go.Scatter(x=spec_bb_E, y=spec_bb_F, mode='lines', line=dict(color=RED, width=1.6, shape='spline'),
                         xaxis='x5', yaxis='y5'))
fig.add_trace(go.Scatter(x=spec_line_E, y=spec_line_F, mode='lines', line=dict(color=CYAN, width=2, shape='spline'),
                         xaxis='x5', yaxis='y5'))
fig.add_trace(go.Scatter(x=spec_dash_E, y=spec_dash_F, mode='lines',
                         line=dict(color='#e040ff', width=1.8, dash='dash', shape='spline'), xaxis='x5', yaxis='y5'))
fig.add_trace(go.Scatter(x=spec_model_E, y=spec_model_F, mode='lines', line=dict(color='#d63cff', width=2.4, shape='spline'),
                         xaxis='x5', yaxis='y5'))
fig.add_trace(go.Scatter(x=spec_data_E, y=spec_data_F, mode='markers',
                         marker=dict(color='black', size=3, symbol='cross-thin', line=dict(color='black', width=1.5)),
                         error_y=dict(type='percent', value=4, width=2, thickness=1.2, color='black'),
                         xaxis='x5', yaxis='y5'))
fig.add_trace(go.Scatter(x=col(spec_grey, 0), y=col(spec_grey, 1), mode='markers',
                         marker=dict(color='#555555', size=4),
                         error_y=dict(type='data', array=col(spec_grey, 2), arrayminus=[0.8399], width=0,
                                      thickness=2, color='#666666'),
                         xaxis='x5', yaxis='y5'))

# ---- panel E ----
fig.add_trace(go.Scatter(x=psd_blk_f, y=psd_blk_p, mode='lines', line=dict(color='#111111', width=1.4, shape='hv'),
                         xaxis='x6', yaxis='y6'))
fig.add_trace(go.Scatter(x=psd_red_f, y=psd_red_p, mode='lines', line=dict(color=RED, width=1.4, shape='hv'),
                         xaxis='x6', yaxis='y6'))
fig.add_trace(go.Scatter(x=col(psd_red_err, 0), y=col(psd_red_err, 1), mode='markers', marker=dict(size=1, color=RED),
                         error_y=dict(type='data', array=col(psd_red_err, 2), arrayminus=col(psd_red_err, 3),
                                      width=0, thickness=1.4, color=RED), xaxis='x6', yaxis='y6'))
fig.add_trace(go.Scatter(x=col(psd_red_drop, 0), y=col(psd_red_drop, 1), mode='markers', marker=dict(size=1, color=RED),
                         error_y=dict(type='data', array=[0], arrayminus=[1.699e-4], width=0, thickness=1.6, color=RED),
                         xaxis='x6', yaxis='y6'))

# ---- panel F ----
fig.add_trace(go.Scatter(x=rmsE_model_E, y=rmsE_model_V, mode='lines', line=dict(color=RED, width=1.4),
                         connectgaps=False, xaxis='x7', yaxis='y7'))
fig.add_trace(go.Scatter(x=rmsE_E, y=rmsE_V, mode='markers',
                         marker=dict(color='#111111', size=7, symbol='square', line=dict(color=RED, width=1)),
                         xaxis='x7', yaxis='y7'))

# ---------------- axes ----------------
lay = dict(width=W, height=H, margin=dict(l=0, r=0, t=0, b=0, autoexpand=False), paper_bgcolor='white',
           plot_bgcolor='white', showlegend=False)

lay['xaxis'] = axis(domain=dx(122, 1425), anchor='y', range=[51000, 52797],
                    tickvals=[51000, 51500, 52000, 52500], ticktext=['51000', '51500', '52000', '52500'],
                    minor=dict(tickvals=[51100, 51200, 51300, 51400, 51600, 51700, 51800, 51900, 52100, 52200,
                                         52300, 52400, 52600, 52700]))
lay['yaxis'] = axis(domain=dy(20, 254), anchor='x', type='log', range=[-10, -6],
                    tickvals=[1e-10, 1e-9, 1e-8, 1e-7, 1e-6], ticktext=[sup(10), sup(9), sup(8), sup(7), sup(6)],
                    ticklabelstandoff=6, minor=dict(tickvals=logminor(-10, -6)))

lay['xaxis2'] = axis(domain=dx(122, 494), anchor='y2', range=[0.2, 2.4], tickvals=[0.5, 1, 1.5, 2],
                     ticktext=['0.5', '1', '1.5', '2'], minor=dict(dtick=0.1, tick0=0))
lay['yaxis2'] = axis(domain=dy(348, 721), anchor='x2', range=[0, 1.8], tickvals=[0, 0.5, 1, 1.5],
                     ticktext=['0', '0.5', '1', '1.5'], ticklabelstandoff=10, minor=dict(dtick=0.1, tick0=0))

lay['xaxis3'] = axis(domain=dx(589, 963), anchor='y3', range=[0.2, 2.4], tickvals=[0.5, 1, 1.5, 2],
                     ticktext=['0.5', '1', '1.5', '2'], minor=dict(dtick=0.1, tick0=0))
lay['yaxis3'] = axis(domain=dy(348, 721), anchor='x3', range=[0, 50], tickvals=[0, 10, 20, 30, 40, 50],
                     ticktext=['0', '10', '20', '30', '40', '50'], ticklabelstandoff=10, minor=dict(dtick=5, tick0=0))

lay['xaxis4'] = axis(domain=dx(1055, 1427), anchor='y4', range=[0, 8.18], tickvals=[0, 2, 4, 6, 8],
                     ticktext=['0', '2', '4', '6', '8'], minor=dict(dtick=1, tick0=0))
lay['yaxis4'] = axis(domain=dy(348, 721), anchor='x4', range=[0.1, 0.6], tickvals=[0.2, 0.4, 0.6],
                     ticktext=['0.2', '0.4', '0.6'], ticklabelstandoff=10,
                     minor=dict(dtick=0.05, tick0=0.1, ticklen=8))

lay['xaxis5'] = axis(domain=dx(122, 448), anchor='y5', type='log', range=[0, 2.786], tickvals=[1, 10, 100],
                     ticktext=['1', '10', '100'], minor=dict(tickvals=logminor(0, 3)))
lay['yaxis5'] = axis(domain=dy(860, 1375), anchor='x5', type='log', range=[-2.487, 1.923],
                     tickvals=[0.01, 0.1, 1, 10], ticktext=['0.01', '0.1', '1', '10'], ticklabelstandoff=10,
                     minor=dict(tickvals=logminor(-3, 2)))

lay['xaxis6'] = axis(domain=dx(589, 963), anchor='y6', type='log', range=[-2.889, 2.306],
                     tickvals=[0.01, 0.1, 1, 10, 100], ticktext=['0.01', '0.1', '1', '10', '100'],
                     minor=dict(tickvals=logminor(-3, 3)))
lay['yaxis6'] = axis(domain=dy(860, 1235), anchor='x6', type='log', range=[-6, -0.47],
                     tickvals=[1e-6, 1e-5, 1e-4, 1e-3, 0.01, 0.1],
                     ticktext=[sup(6), sup(5), sup(4), sup(3), '0.01', '0.1'], ticklabelstandoff=8,
                     minor=dict(tickvals=logminor(-6, 0)))

lay['xaxis7'] = axis(domain=dx(1055, 1427), anchor='y7', type='log', range=[0.096, 1.59], tickvals=[5, 10],
                     ticktext=['5', '10'], minor=dict(tickvals=[2, 3, 4, 6, 7, 8, 9, 20, 30]))
lay['yaxis7'] = axis(domain=dy(860, 1235), anchor='x7', range=[0, 60], tickvals=[0, 20, 40, 60],
                     ticktext=['0', '20', '40', '60'], ticklabelstandoff=10, minor=dict(dtick=5, tick0=0))

fig.update_layout(**lay)

# ---------------- text ----------------
LFONT = dict(family='DejaVu Serif', size=19, color=INK)


def px_ann(text, x, y, angle=0, font=LFONT):
    fig.add_annotation(text=text, x=x / W, y=1 - y / H, xref='paper', yref='paper', showarrow=False,
                       textangle=angle, font=font, xanchor='center', yanchor='middle')


px_ann('Time (MJD)', 775, 305)
px_ann('Flux', 31, 137, -90)
px_ann('Soft colour', 307, 770)
px_ann('Hard colour', 52, 535, -90)
px_ann('Soft colour', 775, 770)
px_ann('rms/mean', 522, 535, -90)
px_ann('RR1', 1240, 770)
px_ann('RR2', 988, 535, -90)
px_ann('Energy', 285, 1430)
px_ann('E E<sub>E</sub>', 33, 1118, -90)
px_ann('Frequency', 775, 1284)
px_ann('Power \u00d7 frequency', 500, 1048, -90)
px_ann('Energy', 1242, 1284)
px_ann('32', 620, 380, font=dict(family='DejaVu Serif', size=18, color=INK))
px_ann('31', 662, 380, font=dict(family='DejaVu Serif', size=18, color=RED))
px_ann('QPOs', 805, 1090, font=dict(family='Lato', size=58, color='black'))
px_ann(obs_id, 1192, 1405, font=dict(family='DejaVu Sans', size=49, color='#ff3322'))

# arrows (QPO markers), drawn as a tail point with arrowheads at the peaks
for hx, hy in [(762, 953), (786, 958)]:
    fig.add_annotation(x=hx / W, y=1 - hy / H, xref='paper', yref='paper', text='', showarrow=True,
                       ax=785 - hx, ay=1052 - hy, arrowhead=2, arrowsize=1.2, arrowwidth=2, arrowcolor='black')

fig.write_html('out.html', config={'displayModeBar': False})
